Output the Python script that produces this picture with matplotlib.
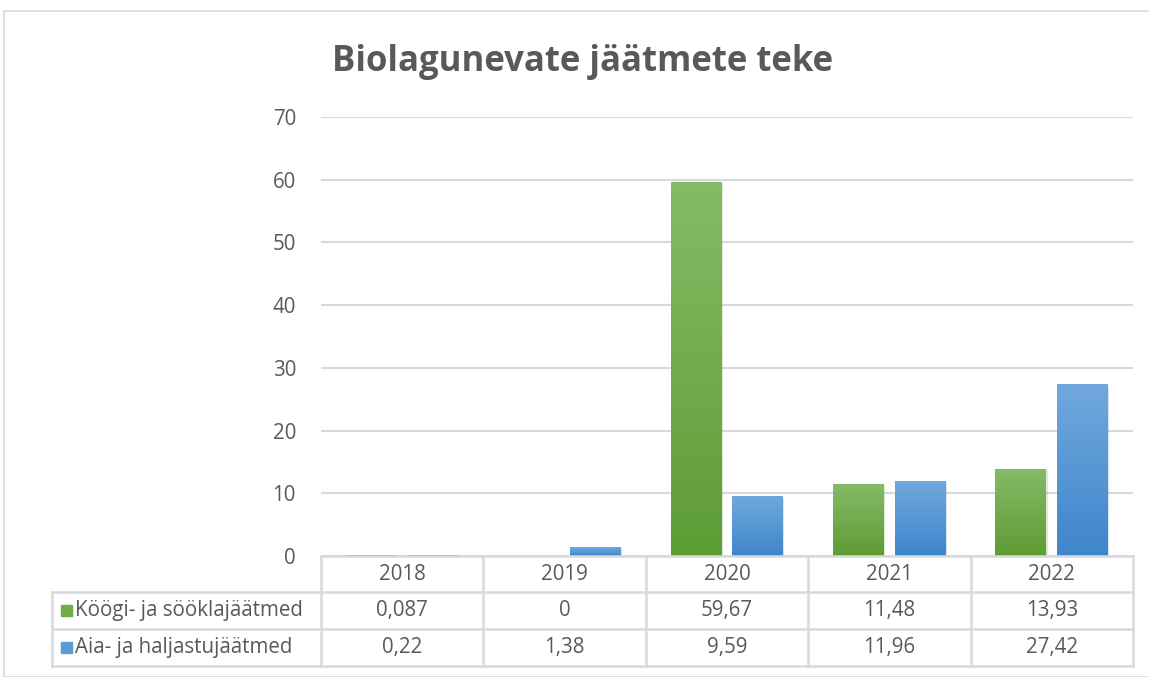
import numpy as np
import matplotlib
matplotlib.use("Agg")
import matplotlib.pyplot as plt
from matplotlib.colors import LinearSegmentedColormap
from matplotlib.patches import Rectangle
from matplotlib.lines import Line2D
import matplotlib.patheffects as pe

years = ["2018", "2019", "2020", "2021", "2022"]
kook = [0.087, 0, 59.67, 11.48, 13.93]
aia = [0.22, 1.38, 9.59, 11.96, 27.42]
kook_lbl = ["0,087", "0", "59,67", "11,48", "13,93"]
aia_lbl = ["0,22", "1,38", "9,59", "11,96", "27,42"]
series_names = ["Köögi- ja sööklajäätmed", "Aia- ja haljastujäätmed"]

W, H = 1149, 677
plt.rcParams['font.family'] = ['Open Sans', 'DejaVu Sans']
fs = 14.8
title_fs = 25
txt = '#595959'
grid = '#d9d9d9'

fig = plt.figure(figsize=(W / 100, H / 100), dpi=100)

# outer frame
fig.patches.append(Rectangle((4 / W, 0), 1.0, 1 - 11 / H, transform=fig.transFigure,
                             fill=False, edgecolor=grid, lw=1.2))

left, right, top, bottom = 321, 1133, 117, 556
ax = fig.add_axes([left / W, 1 - bottom / H, (right - left) / W, (bottom - top) / H])
ax.set_xlim(-0.5, len(years) - 0.5)
ax.set_ylim(0, 70)
ax.set_yticks(range(0, 71, 10))
ax.yaxis.grid(True, color=grid, lw=1.5)
ax.set_axisbelow(True)
for s in ax.spines.values():
    s.set_visible(False)
ax.tick_params(axis='y', length=0, pad=18, labelsize=fs, labelcolor=txt)
ax.set_xticks([])

x = np.arange(len(years))
bw = 0.314
off = 0.19
grads = [('#84bb66', '#5e9c35'), ('#70a8de', '#3f86cb')]
for vals, sign, (c1, c2) in zip([kook, aia], [-1, 1], grads):
    bars = ax.bar(x + sign * off, vals, bw, color=c2, zorder=2,
                  path_effects=[pe.SimplePatchShadow(offset=(0.8, -1.2), alpha=0.18, rho=0.9),
                                pe.Normal()])
    cmap = LinearSegmentedColormap.from_list('g', [c2, c1])
    for b in bars:
        if b.get_height() <= 0:
            continue
        x0, y0 = b.get_x(), b.get_y()
        im = ax.imshow(np.linspace(0, 1, 100).reshape(-1, 1), cmap=cmap, origin='lower',
                       extent=[x0, x0 + b.get_width(), y0, y0 + b.get_height()],
                       aspect='auto', zorder=3)
        im.set_clip_path(b)
ax.set_xlim(-0.5, len(years) - 0.5)
ax.set_ylim(0, 70)

# data table
ph = bottom - top
rows = [0, -36 / ph, -73 / ph, -110 / ph]
lab_left = (52 - left) / (right - left)
tr = ax.get_xaxis_transform()
ta = ax.transAxes
kw = dict(color=grid, lw=1.8, clip_on=False, zorder=5)
ax.add_line(Line2D([0, 1], [0, 0], transform=ta, **kw))
for r in rows[1:]:
    ax.add_line(Line2D([lab_left, 1], [r, r], transform=ta, **kw))
ax.add_line(Line2D([lab_left, lab_left], [rows[1], rows[3]], transform=ta, **kw))
for xb in np.arange(len(years) + 1) - 0.5:
    ax.add_line(Line2D([xb, xb], [0, rows[3]], transform=tr, **kw))

def mid(i):
    return (rows[i] + rows[i + 1]) / 2

for i, yr in enumerate(years):
    ax.text(i, mid(0), yr, transform=tr, ha='center', va='center', fontsize=fs, color=txt)
    ax.text(i, mid(1), kook_lbl[i], transform=tr, ha='center', va='center', fontsize=fs, color=txt)
    ax.text(i, mid(2), aia_lbl[i], transform=tr, ha='center', va='center', fontsize=fs, color=txt)

key_w = 11 / (right - left)
key_h = 11 / ph
for r, name, col in zip([1, 2], series_names, ['#70ad47', '#5b9bd5']):
    kx = (61 - left) / (right - left)
    ax.add_patch(Rectangle((kx, mid(r) - key_h / 2), key_w, key_h, transform=ta,
                           color=col, clip_on=False, zorder=5))
    ax.text((75 - left) / (right - left), mid(r), name, transform=ta, ha='left', va='center',
            fontsize=fs, color=txt)

fig.text(583 / W, 1 - 62 / H, "Biolagunevate jäätmete teke", ha='center', va='center',
         fontsize=title_fs, fontweight='bold', color=txt)

fig.savefig("out.png", dpi=100)
